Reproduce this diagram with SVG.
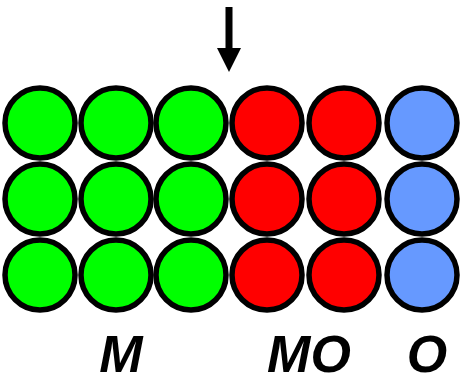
<svg xmlns="http://www.w3.org/2000/svg" width="462" height="375" viewBox="0 0 462 375">
<style>
.c{stroke:#000;stroke-width:5.5}
.g{fill:#00ff00}
.r{fill:#ff0000}
.b{fill:#6699ff}
.t{font-family:"Liberation Sans",Arial,sans-serif;font-weight:bold;font-style:italic;font-size:52px;fill:#000;text-anchor:middle}
</style>
<rect width="462" height="375" fill="#fff"/>
<g id="arrow">
<rect x="225.5" y="7" width="7" height="42" fill="#000"/>
<polygon points="217,48 241,48 229,72" fill="#000"/>
</g>
<g id="row1">
<circle class="c g" cx="40" cy="123" r="35"/>
<circle class="c g" cx="116" cy="123" r="35"/>
<circle class="c g" cx="191" cy="123" r="35"/>
<circle class="c r" cx="267" cy="123" r="35"/>
<circle class="c r" cx="344" cy="123" r="35"/>
<circle class="c b" cx="422" cy="123" r="35"/>
</g>
<g id="row2">
<circle class="c g" cx="40" cy="199" r="35"/>
<circle class="c g" cx="116" cy="199" r="35"/>
<circle class="c g" cx="191" cy="199" r="35"/>
<circle class="c r" cx="267" cy="199" r="35"/>
<circle class="c r" cx="344" cy="199" r="35"/>
<circle class="c b" cx="422" cy="199" r="35"/>
</g>
<g id="row3">
<circle class="c g" cx="40" cy="275" r="35"/>
<circle class="c g" cx="116" cy="275" r="35"/>
<circle class="c g" cx="191" cy="275" r="35"/>
<circle class="c r" cx="267" cy="275" r="35"/>
<circle class="c r" cx="344" cy="275" r="35"/>
<circle class="c b" cx="422" cy="275" r="35"/>
</g>
<g id="labels">
<text class="t" x="121" y="372">M</text>
<text class="t" x="309" y="372">MO</text>
<text class="t" x="427" y="372">O</text>
</g>
</svg>
